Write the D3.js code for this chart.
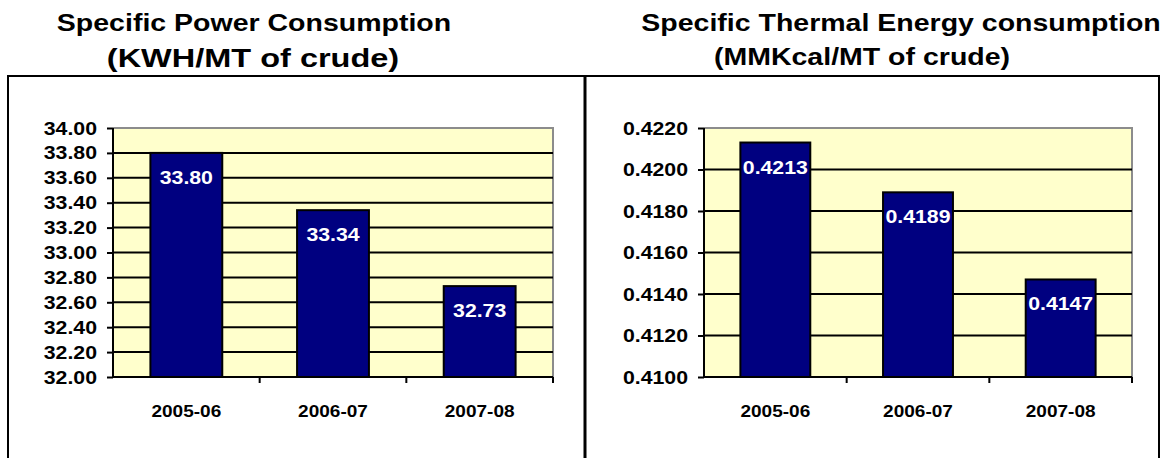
<!DOCTYPE html>
<html>
<head>
<meta charset="utf-8">
<script src="https://cdn.jsdelivr.net/npm/d3@7"></script>
<style>
  body { margin: 0; background: #fff; }
  text { font-family: Arial, "Liberation Sans", sans-serif; font-weight: bold; }
</style>
</head>
<body>
<svg id="chart" width="1168" height="458"></svg>
<script>
// donnees
const years = ["2005-06", "2006-07", "2007-08"];
const powerValues = [33.8, 33.34, 32.73];
const thermalValues = [0.4213, 0.4189, 0.4147];
const powerTicks = [32.0, 32.2, 32.4, 32.6, 32.8, 33.0, 33.2, 33.4, 33.6, 33.8, 34.0];
const thermalTicks = [0.41, 0.412, 0.414, 0.416, 0.418, 0.42, 0.422];
const powerTitle = ["Specific Power Consumption", "(KWH/MT of crude)"];
const thermalTitle = ["Specific Thermal Energy consumption", "(MMKcal/MT of crude)"];

const svg = d3.select("#chart");
const stretch = 1.12; // le texte de l'original est un peu elargi

// cadre autour des deux graphiques
svg.append("rect")
  .attr("x", 8).attr("y", 76)
  .attr("width", 1151).attr("height", 420)
  .attr("fill", "none").attr("stroke", "#000").attr("stroke-width", 2);
svg.append("line")
  .attr("x1", 585).attr("x2", 585).attr("y1", 76).attr("y2", 458)
  .attr("stroke", "#000").attr("stroke-width", 3);

// petit utilitaire pour poser un texte elargi
function addText(parent, str, x, y, size, anchor, fill, sx) {
  return parent.append("text")
    .attr("transform", "translate(" + x + "," + y + ") scale(" + (sx || stretch) + ",1)")
    .attr("text-anchor", anchor)
    .style("font-size", size + "px")
    .attr("fill", fill || "#000")
    .text(str);
}

function drawChart(cfg) {
  const g = svg.append("g");

  // titre sur deux lignes
  cfg.title.forEach(function (t, i) {
    addText(g, t, cfg.titleX[i], cfg.titleY[i], cfg.titleSize[i], "middle", "#000", cfg.titleStretch[i]);
  });

  const x = d3.scaleBand().domain(years).range([cfg.left, cfg.right]).padding(0);
  const y = d3.scaleLinear().domain(d3.extent(cfg.ticks)).range([cfg.bottom, cfg.top]);

  // zone de trace jaune
  g.append("rect")
    .attr("x", cfg.left).attr("y", cfg.top)
    .attr("width", cfg.right - cfg.left).attr("height", cfg.bottom - cfg.top)
    .attr("fill", "#FFFFCC");
  // bord gris en haut et a droite
  g.append("path")
    .attr("d", "M" + cfg.left + "," + cfg.top + "H" + cfg.right + "V" + cfg.bottom)
    .attr("fill", "none").attr("stroke", "#8c8c8c").attr("stroke-width", 2);

  // lignes de grille
  g.selectAll(".grid")
    .data(cfg.ticks.slice(1, -1))
    .enter()
    .append("line")
    .attr("x1", cfg.left).attr("x2", cfg.right)
    .attr("y1", function (d) { return y(d); })
    .attr("y2", function (d) { return y(d); })
    .attr("stroke", "#000").attr("stroke-width", 2);

  // barres
  const bw = x.bandwidth() * 0.49;
  g.selectAll(".bar")
    .data(cfg.values)
    .enter()
    .append("rect")
    .attr("x", function (d, i) { return x(years[i]) + (x.bandwidth() - bw) / 2; })
    .attr("y", function (d) { return y(d); })
    .attr("width", bw)
    .attr("height", function (d) { return cfg.bottom - y(d); })
    .attr("fill", "#000080")
    .attr("stroke", "#000").attr("stroke-width", 2);

  // etiquettes de valeurs
  cfg.values.forEach(function (d, i) {
    addText(g, cfg.labelFormat(d), x(years[i]) + x.bandwidth() / 2, y(d) + 31, 19, "middle", "#fff");
  });

  // axe vertical
  const yAxis = g.append("g")
    .attr("transform", "translate(" + cfg.left + ",0)")
    .call(d3.axisLeft(y).tickValues(cfg.ticks).tickSize(6).tickFormat(cfg.tickFormat));
  yAxis.select(".domain").attr("stroke-width", 2).attr("d", "M0," + cfg.top + "V" + cfg.bottom);
  yAxis.selectAll(".tick line").attr("stroke-width", 2);
  yAxis.selectAll(".tick text")
    .attr("x", -16 / stretch)
    .attr("transform", "scale(" + stretch + ",1)")
    .style("font-size", "19px")
    .attr("fill", "#000");

  // axe horizontal avec graduations entre les categories
  g.append("line")
    .attr("x1", cfg.left).attr("x2", cfg.right)
    .attr("y1", cfg.bottom).attr("y2", cfg.bottom)
    .attr("stroke", "#000").attr("stroke-width", 2);
  g.selectAll(".xtick")
    .data(years)
    .enter()
    .append("line")
    .attr("x1", function (d) { return x(d) + x.bandwidth(); })
    .attr("x2", function (d) { return x(d) + x.bandwidth(); })
    .attr("y1", cfg.bottom).attr("y2", cfg.bottom + 6)
    .attr("stroke", "#000").attr("stroke-width", 2);
  years.forEach(function (d) {
    addText(g, d, x(d) + x.bandwidth() / 2, cfg.bottom + 40, 17, "middle");
  });
}

drawChart({
  title: powerTitle, titleX: [254, 253], titleY: [31, 67],
  titleSize: [23, 25], titleStretch: [1.24, 1.3],
  left: 113, right: 553, top: 128, bottom: 377,
  ticks: powerTicks, values: powerValues,
  tickFormat: d3.format(".2f"), labelFormat: d3.format(".2f")
});

drawChart({
  title: thermalTitle, titleX: [901, 862], titleY: [31, 65],
  titleSize: [23, 23], titleStretch: [1.24, 1.24],
  left: 704, right: 1132, top: 128, bottom: 377,
  ticks: thermalTicks, values: thermalValues,
  tickFormat: d3.format(".4f"), labelFormat: d3.format(".4f")
});
</script>
</body>
</html>
